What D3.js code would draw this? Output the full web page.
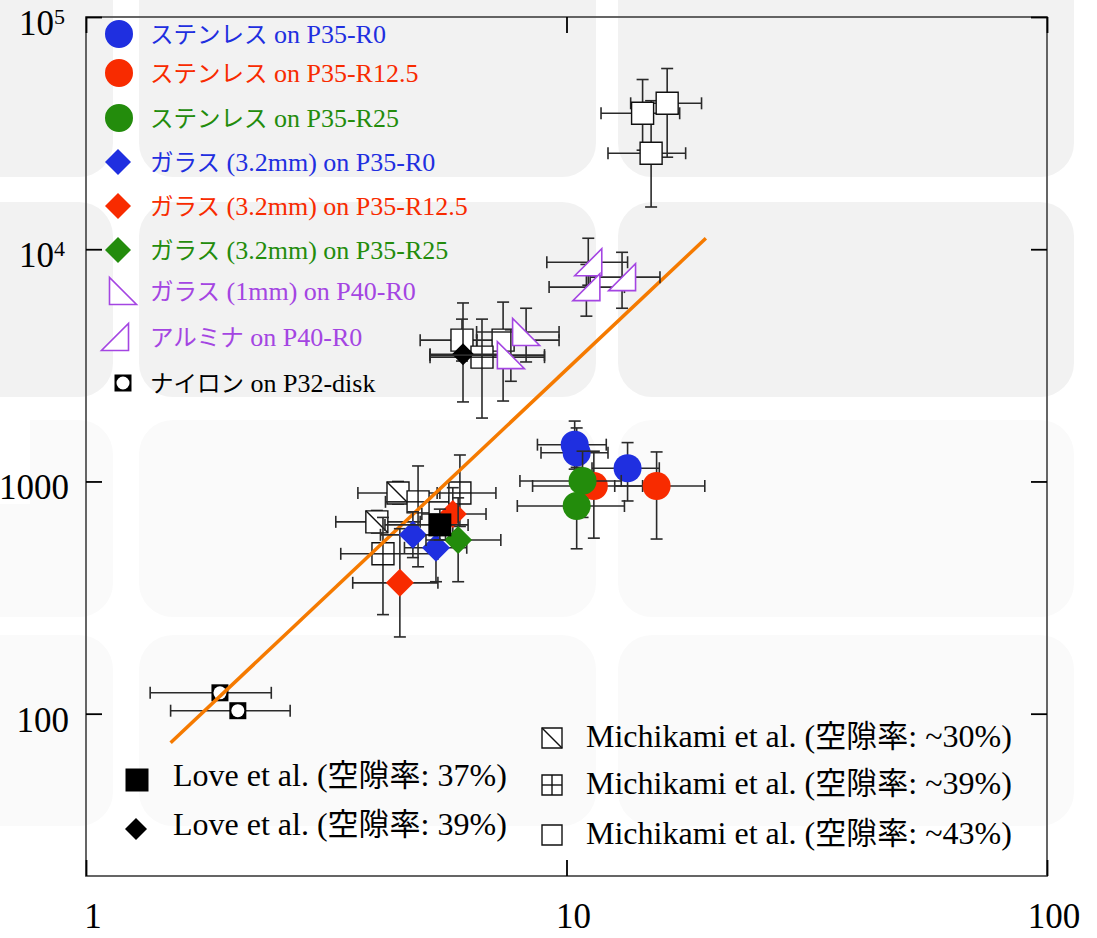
<!DOCTYPE html>
<html lang="ja">
<head>
<meta charset="utf-8">
<title>D3 log-log scatter</title>
<script src="https://d3js.org/d3.v7.min.js"></script>
<style>
  body { margin: 0; background: #fff; }
  text { font-family: "Liberation Serif", "Times New Roman", serif; white-space: pre; }
</style>
</head>
<body>
<script>

// ---- data ----
var xTicks = [1, 10, 100];
var yTicks = [100, 1000, 10000, 100000];

// each point: [x, y, x min, x max, y min, y max]
var stainlessR0 = [[10.4, 1440, 8.7, 12.1, 1130, 1820], [10.5, 1330, 8.85, 12.2, 1040, 1700], [13.4, 1140, 11.3, 15.6, 824, 1470]];
var stainlessR125 = [[11.4, 956, 8.5, 14.4, 570, 1350], [15.4, 956, 12.6, 19.4, 565, 1340]];
var stainlessR25 = [[10.8, 1005, 8.0, 13.0, 700, 1350], [10.5, 784, 7.9, 13.2, 513, 1150]];
var glassR0 = [[4.79, 589, 4.1, 5.6, 470, 740], [5.35, 518, 4.6, 6.2, 370, 690]];
var glassR125 = [[4.50, 366, 3.59, 5.40, 214, 626], [5.80, 724, 5.0, 6.8, 560, 940]];
var glassR25 = [[5.95, 560, 5.1, 7.3, 370, 850]];
var glass1mm = [[8.24, 4400, 6.5, 9.65, 3270, 5570], [7.66, 3500, 5.2, 9.0, 2700, 4500]];
var alumina = [[11.1, 8790, 9.1, 13.4, 7000, 11150], [11.0, 6870, 9.2, 13.2, 5150, 8600], [13.05, 7580, 11.2, 15.65, 5570, 9700]];
var nylon = [[1.90, 123, 1.36, 2.43, 123, 123], [2.07, 103, 1.50, 2.66, 103, 103]];
var love37 = [[5.45, 650, 4.19, 6.24, 560, 760]];
var love39 = [[6.09, 3530, 5.2, 7.3, 2200, 5870]];
var michikami30 = [[4.46, 892, 3.68, 5.45, 800, 1000], [4.03, 670, 3.31, 4.96, 600, 750]];
var michikami39 = [[6.00, 892, 5.38, 7.13, 640, 1300], [4.15, 488, 3.39, 5.40, 267, 700], [4.91, 817, 4.2, 5.7, 429, 1166], [6.67, 3430, 5.2, 9.0, 1875, 5000]];
var michikami43 = [[6.06, 4060, 4.96, 6.5, 3300, 5000], [7.38, 4060, 6.51, 9.65, 2220, 5920], [14.4, 38500, 11.8, 17.2, 26700, 53800], [16.2, 42500, 13.6, 19.1, 24900, 60000], [15.0, 25900, 12.2, 17.7, 15200, 43600]];
var fitLine = [[1.5, 75], [19.5, 11150]];

var legendTop = ["ステンレス on P35-R0", "ステンレス on P35-R12.5", "ステンレス on P35-R25",
                 "ガラス (3.2mm) on P35-R0", "ガラス (3.2mm) on P35-R12.5", "ガラス (3.2mm) on P35-R25",
                 "ガラス (1mm) on P40-R0", "アルミナ on P40-R0", "ナイロン on P32-disk"];
var legendLove = ["Love et al. (空隙率: 37%)", "Love et al. (空隙率: 39%)"];
var legendMichikami = ["Michikami et al. (空隙率: ~30%)", "Michikami et al. (空隙率: ~39%)", "Michikami et al. (空隙率: ~43%)"];

// ---- setup ----
var w = 1097, h = 938;
var serif = '"Liberation Serif", "Times New Roman", serif';
var blue = "#1f2fe0", red = "#f82b00", green = "#238c0c", purple = "#a445e2";

var svg = d3.select("body").append("svg")
    .attr("width", w)
    .attr("height", h);

// faint rounded tiles in the background
var tileCols = [[-40, 113], [139, 596], [618, 1074]];
var tileRows = [[-40, 177, "#f2f2f2"], [202, 397, "#f2f2f2"], [420, 617, "#fafafa"], [635, 826, "#fafafa"]];
tileRows.forEach(function(r) {
    tileCols.forEach(function(c) {
        svg.append("rect")
            .attr("x", c[0]).attr("y", r[0])
            .attr("width", c[1] - c[0]).attr("height", r[1] - r[0])
            .attr("rx", 34).attr("ry", 34)
            .style("fill", r[2]);
    });
});
svg.append("rect").attr("x", 0).attr("y", 418).attr("width", 30).attr("height", 86).style("fill", "#fff");

var xScale = d3.scaleLog().domain([1, 100]).range([86, 1047]);
var yScale = d3.scaleLog().domain([20, 100000]).range([876, 17]);

// frame
svg.append("rect")
    .attr("x", 86).attr("y", 17)
    .attr("width", 1047 - 86).attr("height", 876 - 17)
    .style("fill", "none").style("stroke", "#555").style("stroke-width", 1.8);

// inward ticks on all four sides
function tickStyle(g) {
    g.select(".domain").remove();
    g.selectAll(".tick line").style("stroke", "#000").style("stroke-width", 1.8);
}
svg.append("g").attr("transform", "translate(0,876)")
    .call(d3.axisBottom(xScale).tickValues(xTicks).tickSizeInner(-16).tickSizeOuter(0).tickFormat(""))
    .call(tickStyle);
svg.append("g").attr("transform", "translate(0,17)")
    .call(d3.axisTop(xScale).tickValues(xTicks).tickSizeInner(-16).tickSizeOuter(0).tickFormat(""))
    .call(tickStyle);
svg.append("g").attr("transform", "translate(86,0)")
    .call(d3.axisLeft(yScale).tickValues(yTicks).tickSizeInner(-16).tickSizeOuter(0).tickFormat(""))
    .call(tickStyle);
svg.append("g").attr("transform", "translate(1047,0)")
    .call(d3.axisRight(yScale).tickValues(yTicks).tickSizeInner(-16).tickSizeOuter(0).tickFormat(""))
    .call(tickStyle);

// tick labels
svg.selectAll(".xlab")
    .data(xTicks).enter()
    .append("text")
    .attr("x", function(d) { return xScale(d) + 7; })
    .attr("y", 928)
    .attr("text-anchor", "middle")
    .attr("font-family", serif)
    .attr("font-size", 35)
    .text(function(d) { return d; });

yTicks.forEach(function(d) {
    var t = svg.append("text")
        .attr("y", yScale(d) + 18)
        .attr("text-anchor", "end")
        .attr("font-family", serif)
        .attr("font-size", 35);
    if (d < 10000) {
        t.attr("x", 69).text(d);
    } else {
        t.attr("x", 65);
        t.append("tspan").text("10");
        t.append("tspan").attr("font-size", 22).attr("dy", -11).text(Math.round(Math.log10(d)));
    }
});

// ---- marker shapes ----
function circlePath(cx, cy, r) {
    return "M" + (cx - r) + "," + cy + "a" + r + "," + r + " 0 1,0 " + (2 * r) + ",0a" + r + "," + r + " 0 1,0 " + (-2 * r) + ",0Z";
}
function diamondPath(cx, cy, r) {
    return "M" + cx + "," + (cy - r) + "L" + (cx + r) + "," + cy + "L" + cx + "," + (cy + r) + "L" + (cx - r) + "," + cy + "Z";
}
function squarePath(cx, cy, s) {
    return "M" + (cx - s / 2) + "," + (cy - s / 2) + "h" + s + "v" + s + "h" + (-s) + "Z";
}
function triLeftPath(cx, cy, s) {   // right angle bottom-left
    return "M" + (cx - s / 2) + "," + (cy - s / 2) + "L" + (cx - s / 2) + "," + (cy + s / 2) + "L" + (cx + s / 2) + "," + (cy + s / 2) + "Z";
}
function triRightPath(cx, cy, s) {  // right angle bottom-right
    return "M" + (cx - s / 2) + "," + (cy + s / 2) + "L" + (cx + s / 2) + "," + (cy + s / 2) + "L" + (cx + s / 2) + "," + (cy - s / 2) + "Z";
}

function drawMarker(g, kind, cx, cy, color) {
    if (kind == "circle") {
        g.append("path").attr("d", circlePath(cx, cy, 14)).style("fill", color);
    } else if (kind == "diamond") {
        g.append("path").attr("d", diamondPath(cx, cy, 14)).style("fill", color);
    } else if (kind == "triL") {
        g.append("path").attr("d", triLeftPath(cx, cy, 27)).style("fill", "#fff").style("stroke", color).style("stroke-width", 1.6);
    } else if (kind == "triR") {
        g.append("path").attr("d", triRightPath(cx, cy, 27)).style("fill", "#fff").style("stroke", color).style("stroke-width", 1.6);
    } else if (kind == "nylon") {
        g.append("path").attr("d", squarePath(cx, cy, 17)).style("fill", "#000");
        g.append("path").attr("d", circlePath(cx, cy, 6.5)).style("fill", "#fff");
    } else if (kind == "loveSq") {
        g.append("path").attr("d", squarePath(cx, cy, 23)).style("fill", "#000");
    } else if (kind == "loveDia") {
        g.append("path").attr("d", diamondPath(cx, cy, 11)).style("fill", "#000");
    } else {
        // michikami open squares
        var s = kind == "legendSq" || kind == "legendDiag" || kind == "legendGrid" ? 20 : 22;
        g.append("path").attr("d", squarePath(cx, cy, s)).style("fill", "#fff").style("stroke", "#111").style("stroke-width", 1.4);
        if (kind == "diag" || kind == "legendDiag") {
            g.append("line").attr("x1", cx - s / 2).attr("y1", cy - s / 2).attr("x2", cx + s / 2).attr("y2", cy + s / 2)
                .style("stroke", "#111").style("stroke-width", 1.4);
        }
        if (kind == "grid" || kind == "legendGrid") {
            g.append("line").attr("x1", cx).attr("y1", cy - s / 2).attr("x2", cx).attr("y2", cy + s / 2).style("stroke", "#111").style("stroke-width", 1.4);
            g.append("line").attr("x1", cx - s / 2).attr("y1", cy).attr("x2", cx + s / 2).attr("y2", cy).style("stroke", "#111").style("stroke-width", 1.4);
        }
    }
}

// error bars with caps
function drawErrors(data) {
    var g = svg.append("g").style("stroke", "#2a2a2a").style("stroke-width", 1.6);
    var cap = 6;
    data.forEach(function(d) {
        var cx = xScale(d[0]), cy = yScale(d[1]);
        if (d[2] != d[3]) {
            var x1 = xScale(d[2]), x2 = xScale(d[3]);
            g.append("line").attr("x1", x1).attr("x2", x2).attr("y1", cy).attr("y2", cy);
            g.append("line").attr("x1", x1).attr("x2", x1).attr("y1", cy - cap).attr("y2", cy + cap);
            g.append("line").attr("x1", x2).attr("x2", x2).attr("y1", cy - cap).attr("y2", cy + cap);
        }
        if (d[4] != d[5]) {
            var y1 = yScale(d[4]), y2 = yScale(d[5]);
            g.append("line").attr("x1", cx).attr("x2", cx).attr("y1", y1).attr("y2", y2);
            g.append("line").attr("x1", cx - cap).attr("x2", cx + cap).attr("y1", y1).attr("y2", y1);
            g.append("line").attr("x1", cx - cap).attr("x2", cx + cap).attr("y1", y2).attr("y2", y2);
        }
    });
}

function drawSeries(data, kind, color) {
    drawErrors(data);
    var g = svg.append("g");
    data.forEach(function(d) {
        drawMarker(g, kind, xScale(d[0]), yScale(d[1]), color);
    });
}

// ---- plot ----
drawSeries(michikami43, "plain");
drawSeries(michikami30, "diag");
drawSeries(michikami39, "grid");
drawSeries(love39, "loveDia");
drawSeries(nylon, "nylon");

svg.append("path")
    .datum(fitLine)
    .attr("d", d3.line().x(function(d) { return xScale(d[0]); }).y(function(d) { return yScale(d[1]); }))
    .style("fill", "none")
    .style("stroke", "#f57a00")
    .style("stroke-width", 3.5);

drawSeries(glass1mm, "triL", purple);
drawSeries(alumina, "triR", purple);
drawSeries(stainlessR0, "circle", blue);
drawSeries(stainlessR125, "circle", red);
drawSeries(stainlessR25, "circle", green);
drawSeries(glassR125, "diamond", red);
drawSeries(glassR0, "diamond", blue);
drawSeries(glassR25, "diamond", green);
drawSeries(love37, "loveSq");

// ---- legends ----
function mixedText(x, y, str, latinSize, cjkSize, color) {
    var t = svg.append("text").attr("x", x).attr("y", y).attr("font-family", serif).style("fill", color);
    str.split(/([\u3040-\u30ff\u4e00-\u9fff]+)/).forEach(function(p) {
        if (!p) return;
        var cjk = /[\u3040-\u30ff\u4e00-\u9fff]/.test(p);
        t.append("tspan")
            .attr("font-family", cjk ? '"Noto Sans CJK JP", sans-serif' : serif)
            .attr("font-size", cjk ? cjkSize : latinSize)
            .text(p);
    });
}

var topKinds = ["circle", "circle", "circle", "diamond", "diamond", "diamond", "triL", "triR", "nylon"];
var topColors = [blue, red, green, blue, red, green, purple, purple, "#000"];
var topY = [34, 73, 118, 162, 206, 250, 291, 337, 383];
var topMarkX = [119, 119, 119, 118, 118, 118, 123, 115, 123];
var lg = svg.append("g");
legendTop.forEach(function(label, i) {
    var kind = topKinds[i];
    if (kind == "diamond") lg.append("path").attr("d", diamondPath(topMarkX[i], topY[i], 13)).style("fill", topColors[i]);
    else drawMarker(lg, kind, topMarkX[i], topY[i], topColors[i]);
    mixedText(150, topY[i] + 9, label, 26, 23.5, topColors[i]);
});

drawMarker(lg, "loveSq", 137, 780, "#000");
lg.append("path").attr("d", diamondPath(136, 829, 11)).style("fill", "#000");
mixedText(173, 786, legendLove[0], 32, 31, "#000");
mixedText(173, 835, legendLove[1], 32, 31, "#000");

var michiKinds = ["legendDiag", "legendGrid", "legendSq"];
var michiY = [738, 785, 835];
legendMichikami.forEach(function(label, i) {
    drawMarker(lg, michiKinds[i], 552, michiY[i], "#000");
    mixedText(586, michiY[i] + 9, label, 32, 31, "#000");
});

</script>
</body>
</html>
